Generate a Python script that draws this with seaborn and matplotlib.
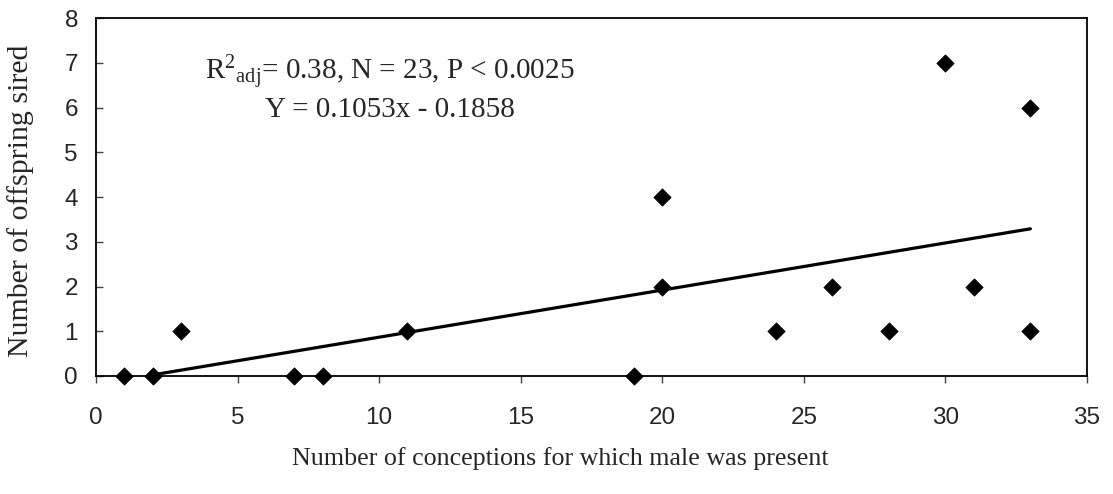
import matplotlib
matplotlib.use("Agg")
import matplotlib.pyplot as plt
import seaborn as sns
import numpy as np
import pandas as pd

# Data (visible points)
conceptions = [1, 2, 3, 7, 8, 11, 19, 20, 20, 24, 26, 28, 30, 31, 33, 33]
offspring = [0, 0, 1, 0, 0, 1, 0, 2, 4, 1, 2, 1, 7, 2, 6, 1]
slope = 0.1053
intercept = -0.1858
fit_range = [2, 33]
x_ticks = [0, 5, 10, 15, 20, 25, 30, 35]
y_ticks = [0, 1, 2, 3, 4, 5, 6, 7, 8]

sns.set_style("white")
plt.rcParams["font.family"] = ["Liberation Serif", "DejaVu Serif"]
plt.rcParams["mathtext.fontset"] = "custom"
plt.rcParams["mathtext.rm"] = "Liberation Serif"
plt.rcParams["mathtext.it"] = "Liberation Serif:italic"

df = pd.DataFrame({"x": conceptions, "y": offspring})
fit = pd.DataFrame({"x": fit_range, "y": [slope * v + intercept for v in fit_range]})

fig = plt.figure(figsize=(11.13, 4.94), dpi=100)
W, H = 1113, 494
ax = fig.add_axes([96 / W, 1 - 376 / H, (1087 - 96) / W, (376 - 18) / H])

sns.lineplot(data=fit, x="x", y="y", ax=ax, color="black", linewidth=2.3, zorder=2)
sns.scatterplot(data=df, x="x", y="y", ax=ax, marker="D", s=78, color="black",
                edgecolor="black", linewidth=0.5, zorder=3, clip_on=False)

ax.set_xlim(0, 35)
ax.set_ylim(0, 8)
ax.set_xticks(x_ticks)
ax.set_yticks(y_ticks)
tick_font = {"family": "Liberation Sans", "size": 17.5}
ax.set_xticklabels([str(v) for v in x_ticks], fontdict=tick_font)
ax.set_yticklabels([str(v) for v in y_ticks], fontdict=tick_font)
ax.tick_params(axis="x", direction="out", length=5, width=1, pad=17, color="#444444")
ax.tick_params(axis="y", direction="in", length=5, width=1, pad=13, color="#444444")
ax.tick_params(left=True, bottom=True)

for side in ["left", "bottom", "top", "right"]:
    ax.spines[side].set_visible(True)
    ax.spines[side].set_color("black")
    ax.spines[side].set_linewidth(1.3)

ax.set_xlabel("Number of conceptions for which male was present", fontsize=18.7,
              ha="center", va="center")
ax.xaxis.set_label_coords(560 / W, 1 - 459 / H, transform=fig.transFigure)
ax.set_ylabel("Number of offspring sired", fontsize=21.5, ha="center", va="center")
ax.yaxis.set_label_coords(21 / W, 1 - 201 / H, transform=fig.transFigure)

fig.text(205 / W, 1 - 80 / H, r"R$^{2}$$_{\mathrm{adj}}$= 0.38, N = 23, P < 0.0025",
         fontsize=21, ha="left", va="baseline")
fig.text(265 / W, 1 - 117 / H, "Y = 0.1053x - 0.1858",
         fontsize=21, ha="left", va="baseline")

fig.savefig("out.png", dpi=100)
